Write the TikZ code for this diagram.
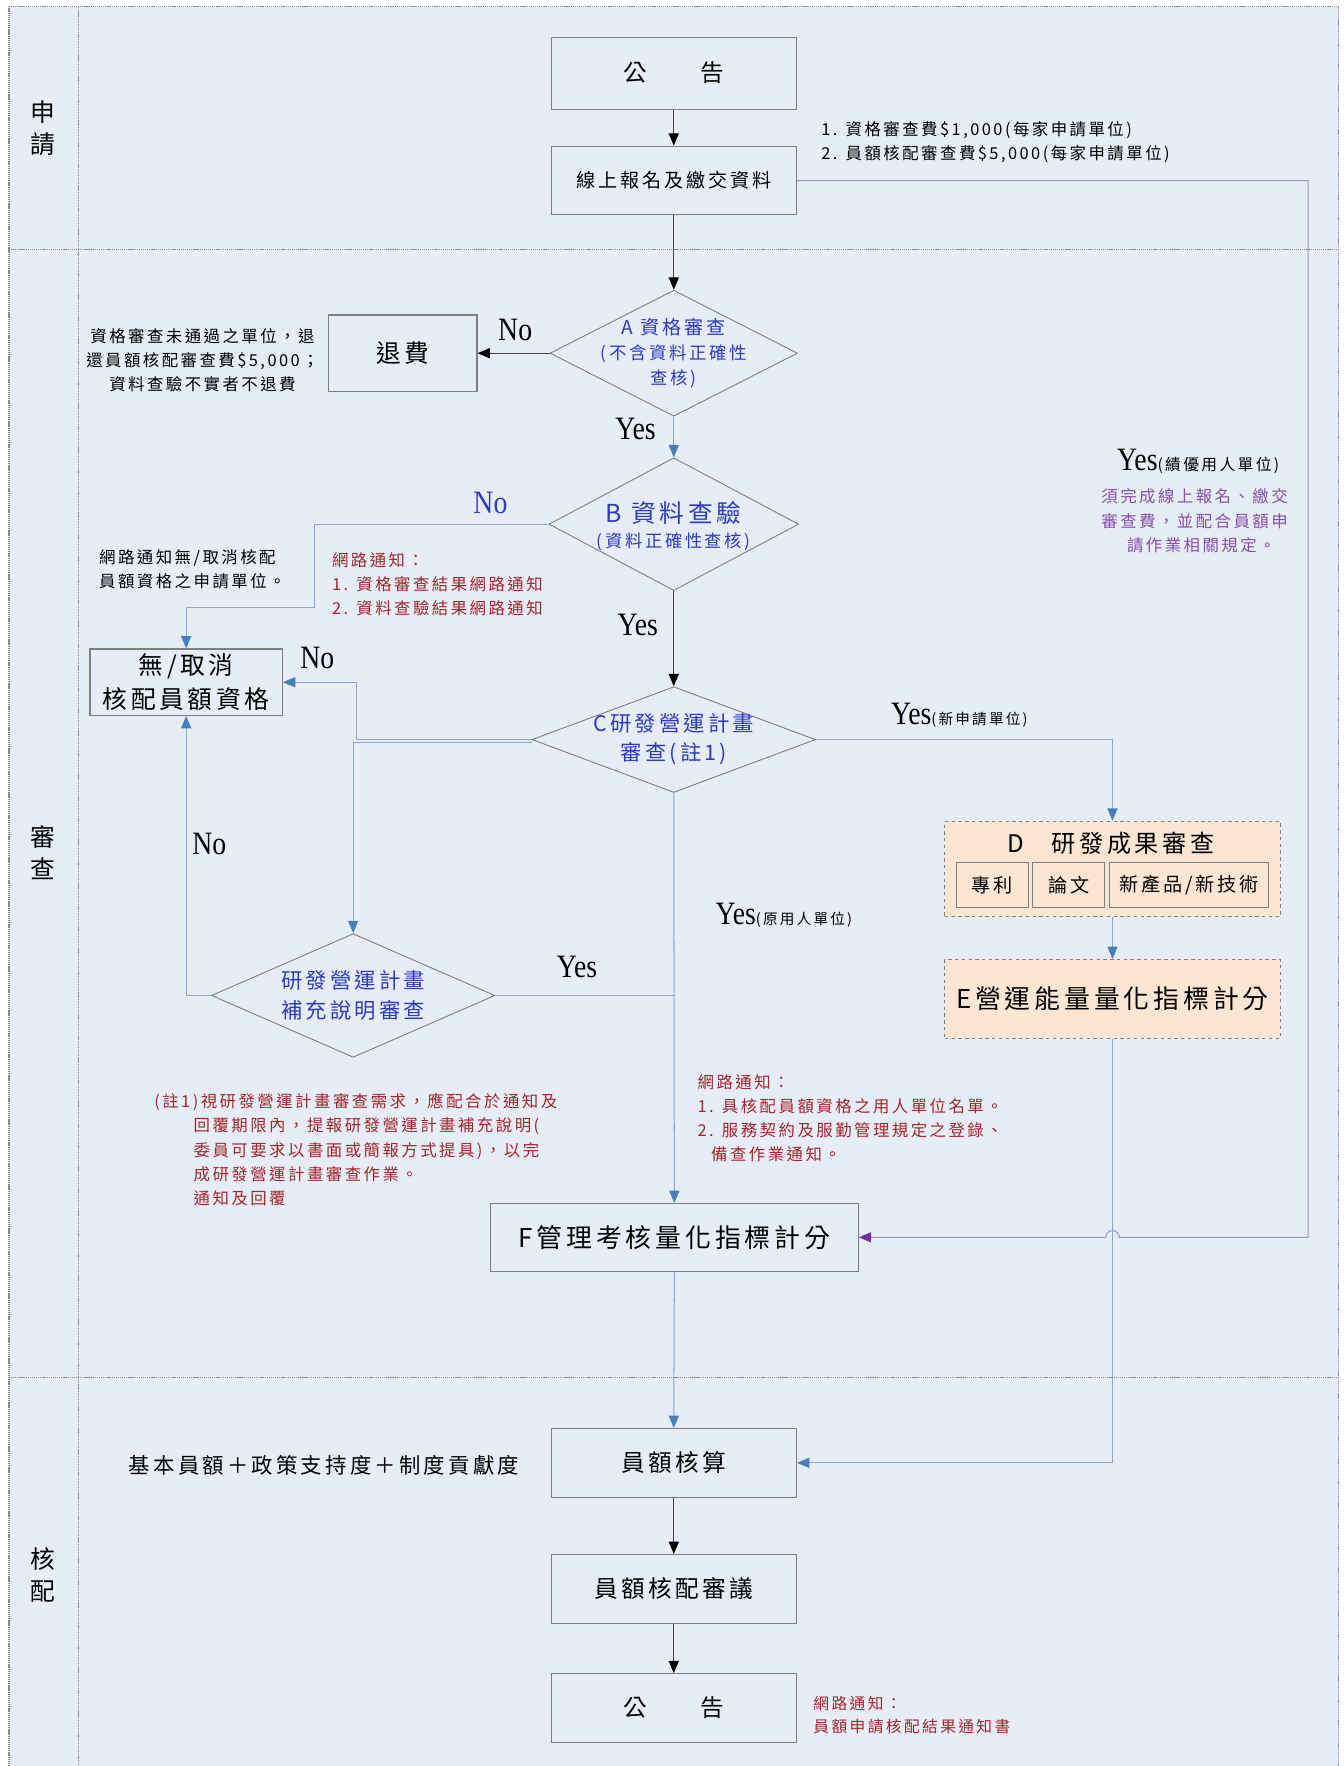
\documentclass[tikz,border=0pt]{standalone}
\usepackage{fontspec}
\setmainfont{Noto Sans CJK TC}[LetterSpace=15]
\newfontfamily\lat{Liberation Serif}
\usetikzlibrary{arrows.meta,shapes.geometric}
\definecolor{bg}{HTML}{E7EDF7}
\definecolor{boxgray}{HTML}{7F7F7F}
\definecolor{framec}{HTML}{8C8C8C}
\definecolor{lineblue}{HTML}{86A6D6}
\definecolor{headblue}{HTML}{4A7EBB}
\definecolor{pline}{HTML}{9C92CC}
\definecolor{phead}{HTML}{7030A0}
\definecolor{dred}{HTML}{A3262B}
\definecolor{tblue}{HTML}{2E3BBF}
\definecolor{tpurple}{HTML}{8650A8}
\definecolor{peach}{HTML}{FBE5D3}
\newcommand\myfs[2]{\fontsize{#1}{#2}\selectfont}
\newcommand\YN[2][29]{{\lat\myfs{#1}{#1}\scalebox{0.85}[1]{#2}}}
\begin{document}
\begin{tikzpicture}[x=1pt,y=-1pt,
  rect/.style={draw=boxgray, line width=1pt, fill=bg, inner sep=0pt, align=center},
  dbox/.style={draw=boxgray, line width=0.9pt, dashed, fill=peach, inner sep=0pt, align=center},
  subbox/.style={draw=boxgray, line width=0.9pt, fill=peach, inner sep=0pt, minimum height=40, font=\myfs{17}{20}},
  dia/.style={diamond, draw=boxgray, line width=0.8pt, fill=bg, inner sep=0pt},
  dtext/.style={text=tblue, align=center, inner sep=0pt},
  lane/.style={align=center, font=\myfs{22}{28}, inner sep=0pt},
  note/.style={align=left, inner sep=0pt, anchor=north west, font=\myfs{14.6}{21.5}},
  framel/.style={draw=framec, line width=0.9pt, dash pattern=on 1pt off 0.7pt},
  karrow/.style={draw=black!75, line width=0.9pt, -{Triangle[length=11pt,width=9pt,color=black]}},
  barrow/.style={draw=lineblue, line width=0.9pt, -{Triangle[length=11pt,width=9pt,color=headblue]}},
  bline/.style={draw=lineblue, line width=0.9pt},
  parrow/.style={draw=pline, line width=0.9pt, -{Triangle[length=11pt,width=9pt,color=phead]}}
]
\useasboundingbox (0,0) rectangle (1194,1570);
\fill[white] (0,0) rectangle (1194,1570);
\fill[bg] (8,6) rectangle (1190,1570);
\draw[framel] (8,1570) -- (8,6) -- (1190,6) -- (1190,1570);
\draw[framel] (70,6) -- (70,1570);
\draw[framel] (8,222) -- (1190,222);
\draw[framel] (8,1225) -- (1190,1225);

% lane labels
\node[lane] (l1) at (38,114) {申\\請};
\node[lane] (l2) at (38,758) {審\\查};
\node[lane] (l3) at (38,1400) {核\\配};

% main boxes
\node[rect, minimum width=218, minimum height=64, font=\myfs{21}{24}] (pub1) at (599,65) {公\hspace{48pt}告};
\node[rect, minimum width=218, minimum height=61, font=\myfs{17}{20}] (reg) at (599,160.5) {線上報名及繳交資料};
\node[note] (fee) at (730,108) {1. 資格審查費\$1,000(每家申請單位)\\2. 員額核配審查費\$5,000(每家申請單位)};

% diamond A
\node[dia, minimum width=220, minimum height=112] (dA) at (599,314) {};
\node[dtext, font=\myfs{15.5}{22}] (dAt) at (599,314) {{\myfs{17}{22}A 資格審查}\\(不含資料正確性\\查核)};
\node[rect, minimum width=132, minimum height=68, font=\myfs{22}{24}] (refund) at (358,314) {退費};
\node[note, anchor=center, align=center] (refnote) at (180,320) {資格審查未通過之單位，退\\還員額核配審查費\$5,000；\\資料查驗不實者不退費};
\node (noA) at (458,293) {\YN{No}};
\node (yesA) at (565,381) {\YN{Yes}};

% diamond B
\node[dia, minimum width=222, minimum height=118] (dB) at (599,466) {};
\node[dtext] (dBt) at (599,468) {{\myfs{22}{30}B 資料查驗}\\[6pt]{\myfs{15.4}{20}(資料正確性查核)}};
\node[text=tblue] (noB) at (436,447) {\YN{No}};
\node[note] (bnote) at (88,488) {網路通知無/取消核配\\員額資格之申請單位。};
\node[note, text=dred] (rnoteB) at (295,491) {網路通知：\\1. 資格審查結果網路通知\\2. 資料查驗結果網路通知};
\node (yesB) at (567,556) {\YN{Yes}};

% cancel box
\node[rect, minimum width=171, minimum height=59, font=\myfs{22}{30}] (cancel) at (165.5,606.5) {無/取消\\核配員額資格};

% diamond C
\node[dia, minimum width=252, minimum height=94] (dC) at (599,657.5) {};
\node[dtext, font=\myfs{19}{26}] (dCt) at (599,657) {C研發營運計畫\\審查(註1)};
\node (noC) at (282,585) {\YN{No}};
\node[anchor=west, inner sep=0pt] (yesNew) at (792,636) {\YN{Yes}{\myfs{13}{13}(新申請單位)}};
\node[anchor=west, inner sep=0pt] (yesOld) at (636,814) {\YN{Yes}{\myfs{13}{13}(原用人單位)}};

% supplementary diamond
\node[dia, minimum width=252, minimum height=110] (dS) at (314,885) {};
\node[dtext, font=\myfs{19}{26}] (dSt) at (314,885) {研發營運計畫\\補充說明審查};
\node (noS) at (186,750) {\YN{No}};
\node (yesS) at (513,860) {\YN{Yes}};
\node[note, text=dred] (n1) at (137,972) {(註1)視研發營運計畫審查需求，應配合於通知及\\
\hspace*{35pt}回覆期限內，提報研發營運計畫補充說明(\\
\hspace*{35pt}委員可要求以書面或簡報方式提具)，以完\\
\hspace*{35pt}成研發營運計畫審查作業。\\
\hspace*{35pt}通知及回覆};

% D and E
\node[dbox, minimum width=298, minimum height=85] (D) at (989,772.5) {};
\node[inner sep=0pt, font=\myfs{21.5}{24}] (Dt) at (988,750) {D\hspace{24pt}研發成果審查};
\node[subbox, minimum width=64] (s1) at (882,787) {專利};
\node[subbox, minimum width=64] (s2) at (950,787) {論文};
\node[subbox, minimum width=142] (s3) at (1057,787) {新產品/新技術};
\node[dbox, minimum width=298, minimum height=70, font=\myfs{23}{26}] (E) at (989,888) {E營運能量量化指標計分};

% Yes excellent
\node[anchor=west, inner sep=0pt] (yesEx) at (993,410) {\YN{Yes}{\myfs{14}{14}(績優用人單位)}};
\node[note, anchor=center, align=center, text=tpurple] (pnote) at (1062,463) {須完成線上報名、繳交\\審查費，並配合員額申\\\hspace*{12pt}請作業相關規定。};

% F
\node[note, text=dred] (rnoteF) at (620,955) {網路通知：\\1. 具核配員額資格之用人單位名單。\\2. 服務契約及服勤管理規定之登錄、\\\hspace*{12pt}備查作業通知。};
\node[rect, minimum width=327, minimum height=60, font=\myfs{23}{26}] (F) at (599.5,1100) {F管理考核量化指標計分};

% bottom
\node[rect, minimum width=218, minimum height=61, font=\myfs{21}{24}] (calc) at (599,1300.5) {員額核算};
\node[inner sep=0pt, font=\myfs{19}{22}] (formula) at (288,1303) {基本員額＋政策支持度＋制度貢獻度};
\node[rect, minimum width=218, minimum height=61, font=\myfs{21}{24}] (review) at (599,1412.5) {員額核配審議};
\node[rect, minimum width=218, minimum height=61, font=\myfs{21}{24}] (pub2) at (599,1518.5) {公\hspace{48pt}告};
\node[note, text=dred, font=\myfs{14}{20}] (rnoteP) at (723,1508) {網路通知：\\員額申請核配結果通知書};

% connectors
\draw[karrow] (pub1) -- (reg);
\draw[karrow] (reg) -- (dA.north);
\draw[karrow] (dA.west) -- (refund.east);
\draw[barrow] (dA.south) -- (dB.north);
\draw[barrow] (dB.west) -- (280,466) -- (280,540) -| (cancel.north);
\draw[karrow] (dB.south) -- (dC.north);
\draw[barrow] (dC.west) -- (317,657.5) |- (cancel.east);
\draw[barrow] ([yshift=-3pt]dC.west) -| (dS.north);
\draw[barrow] (dC.east) -| (D.north);
\draw[barrow] (dC.south) -- (F.north);
\draw[barrow] (dS.west) -| (cancel.south);
\draw[bline] (dS.east) -- (dC.south |- dS.east);
\draw[barrow] (D.south) -- (E.north);
\draw[barrow] (E.south) |- (calc.east);
\draw[parrow] (reg.east) -- (1163,160.5) -- (1163,1100) -- (995,1100) arc[start angle=0, end angle=-180, radius=6] -- (F.east);
\draw[barrow] (F.south) -- (calc.north);
\draw[karrow] (calc.south) -- (review.north);
\draw[karrow] (review.south) -- (pub2.north);
\end{tikzpicture}
\end{document}
